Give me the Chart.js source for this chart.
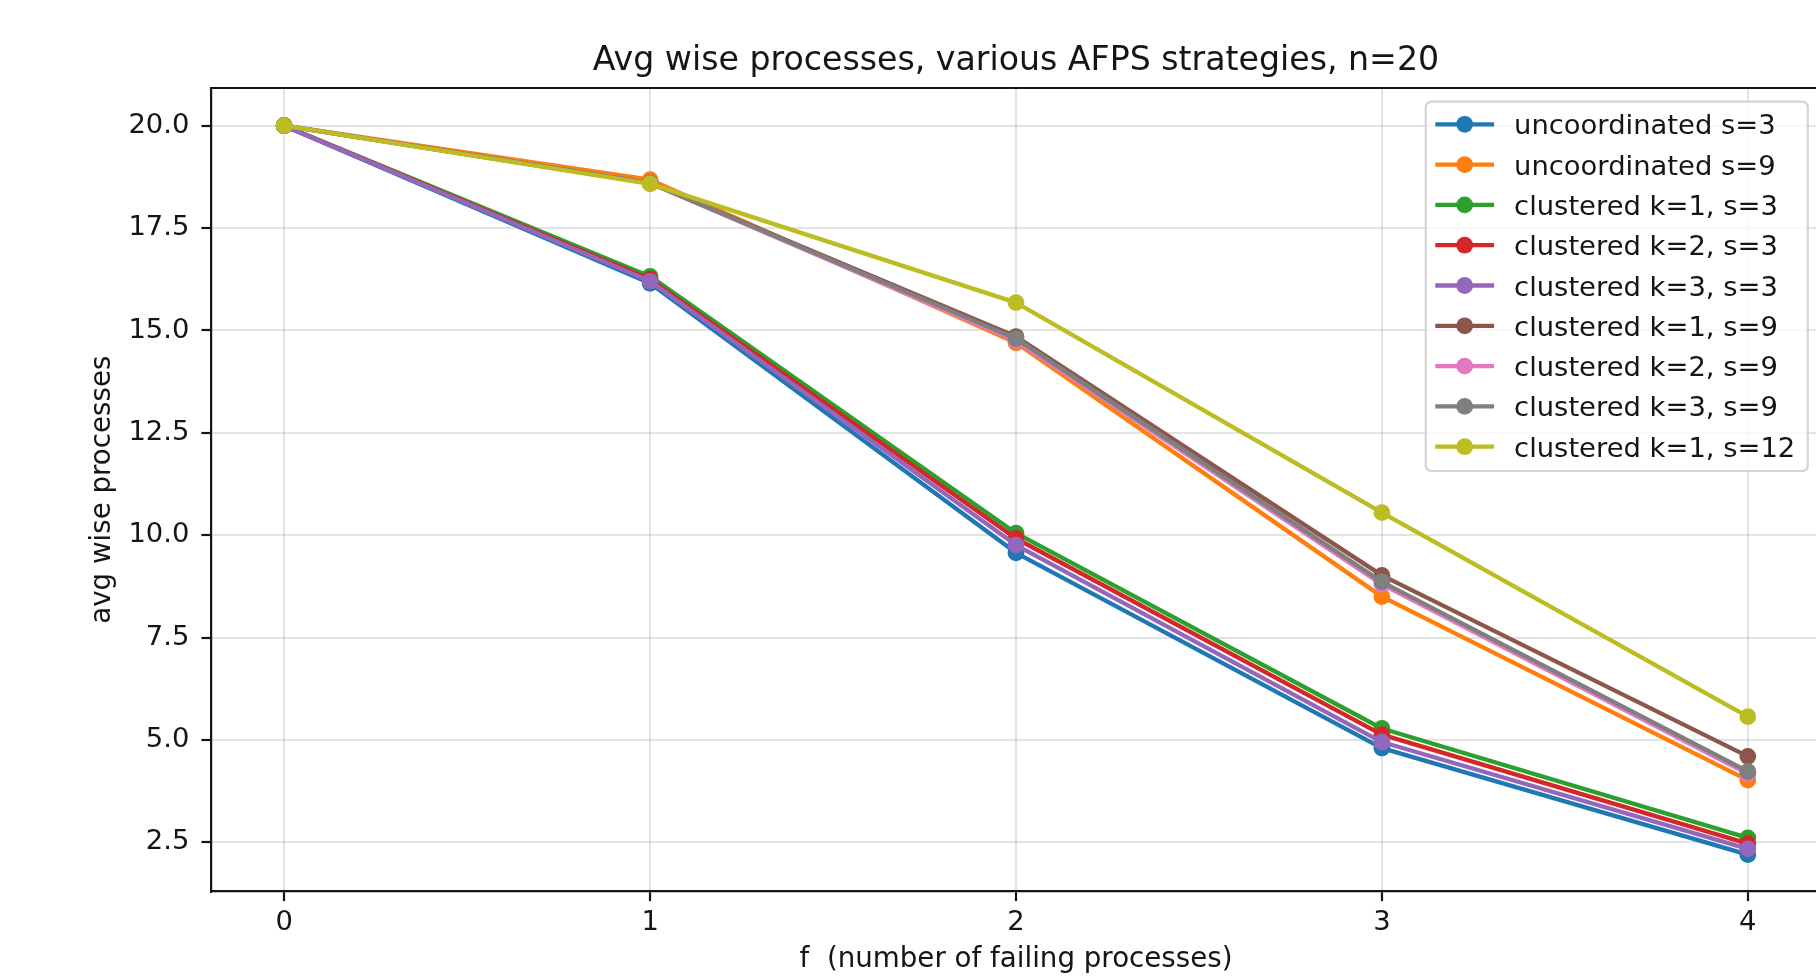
<!DOCTYPE html>
<html>
<head>
<meta charset="utf-8">
<script src="https://cdn.jsdelivr.net/npm/chart.js@4.4.1/dist/chart.umd.min.js"></script>
<style>
  html, body { margin: 0; padding: 0; background: #ffffff; overflow: hidden; }
  #wrap { width: 1840px; height: 976px; }
</style>
</head>
<body>
<div id="wrap"><canvas id="chart" width="1840" height="976"></canvas></div>
<script>
// f = number of failing processes
const failures = [0, 1, 2, 3, 4];

// average number of wise processes per strategy
const uncoordS3   = [20, 16.15, 9.57, 4.80, 2.20];
const uncoordS9   = [20, 18.68, 14.70, 8.50, 4.02];
const clusK1S3    = [20, 16.32, 10.05, 5.28, 2.61];
const clusK2S3    = [20, 16.25, 9.92, 5.13, 2.47];
const clusK3S3    = [20, 16.20, 9.76, 4.95, 2.34];
const clusK1S9    = [20, 18.60, 14.85, 9.02, 4.60];
const clusK2S9    = [20, 18.60, 14.75, 8.80, 4.17];
const clusK3S9    = [20, 18.60, 14.80, 8.86, 4.23];
const clusK1S12   = [20, 18.58, 15.68, 10.55, 5.57];

const seriesLabels = [
  'uncoordinated s=3', 'uncoordinated s=9',
  'clustered k=1, s=3', 'clustered k=2, s=3', 'clustered k=3, s=3',
  'clustered k=1, s=9', 'clustered k=2, s=9', 'clustered k=3, s=9',
  'clustered k=1, s=12'
];
const seriesValues = [uncoordS3, uncoordS9, clusK1S3, clusK2S3, clusK3S3,
                      clusK1S9, clusK2S9, clusK3S9, clusK1S12];
const seriesColors = ['#1f77b4', '#ff7f0e', '#2ca02c', '#d62728', '#9467bd',
                      '#8c564b', '#e377c2', '#7f7f7f', '#bcbd22'];

const chartTitle = 'Avg wise processes, various AFPS strategies, n=20';
const xTitle = 'f  (number of failing processes)';
const yTitle = 'avg wise processes';

const FONT = '"DejaVu Sans", sans-serif';
const TXT = '#151515';
const SMALL = 27.4;
const LABEL = 27.7;
const BIG = 33.2;

const datasets = seriesValues.map((vals, i) => ({
  label: seriesLabels[i],
  data: failures.map((f, j) => ({ x: f, y: vals[j] })),
  borderColor: seriesColors[i],
  backgroundColor: seriesColors[i],
  pointBackgroundColor: seriesColors[i],
  pointBorderWidth: 0,
  pointRadius: 8.4,
  borderWidth: 4.3,
  borderJoinStyle: 'round',
  tension: 0,
  fill: false,
  // later series are painted on top of earlier ones
  order: seriesValues.length - i
}));

// title, top frame edge and boxed legend inside the plot
const decorations = {
  id: 'decorations',
  afterDatasetsDraw(chart) {
    const { ctx, chartArea: a } = chart;
    ctx.save();

    // top spine
    ctx.strokeStyle = TXT;
    ctx.lineWidth = 2.2;
    ctx.beginPath();
    ctx.moveTo(a.left - 1.1, a.top);
    ctx.lineTo(a.right + 1.1, a.top);
    ctx.stroke();

    // title
    ctx.fillStyle = TXT;
    ctx.font = BIG + 'px ' + FONT;
    ctx.textAlign = 'center';
    ctx.textBaseline = 'alphabetic';
    ctx.fillText(chartTitle, (a.left + a.right) / 2, 69.5);

    // legend
    ctx.font = SMALL + 'px ' + FONT;
    let maxW = 0;
    seriesLabels.forEach(t => { maxW = Math.max(maxW, ctx.measureText(t).width); });
    const boxRight = a.right - 13.2;
    const textX = boxRight - 12.5 - maxW;
    const boxLeft = textX - 88.3;
    const boxTop = a.top + 13.7;
    const rowGap = 40.3;
    const boxBottom = boxTop + 22.6 + rowGap * (seriesLabels.length - 1) + 24.3;
    const r = 5.5;

    ctx.beginPath();
    ctx.moveTo(boxLeft + r, boxTop);
    ctx.lineTo(boxRight - r, boxTop);
    ctx.arcTo(boxRight, boxTop, boxRight, boxTop + r, r);
    ctx.lineTo(boxRight, boxBottom - r);
    ctx.arcTo(boxRight, boxBottom, boxRight - r, boxBottom, r);
    ctx.lineTo(boxLeft + r, boxBottom);
    ctx.arcTo(boxLeft, boxBottom, boxLeft, boxBottom - r, r);
    ctx.lineTo(boxLeft, boxTop + r);
    ctx.arcTo(boxLeft, boxTop, boxLeft + r, boxTop, r);
    ctx.closePath();
    ctx.fillStyle = 'rgba(255,255,255,0.8)';
    ctx.fill();
    ctx.strokeStyle = 'rgba(204,204,204,0.85)';
    ctx.lineWidth = 2.2;
    ctx.stroke();

    ctx.textAlign = 'left';
    seriesLabels.forEach((t, i) => {
      const cy = boxTop + 22.6 + rowGap * i;
      const hx0 = boxLeft + 9.5;
      const hx1 = boxLeft + 68.3;
      ctx.strokeStyle = seriesColors[i];
      ctx.lineWidth = 4.3;
      ctx.lineCap = 'butt';
      ctx.beginPath();
      ctx.moveTo(hx0, cy);
      ctx.lineTo(hx1, cy);
      ctx.stroke();
      ctx.fillStyle = seriesColors[i];
      ctx.beginPath();
      ctx.arc((hx0 + hx1) / 2, cy, 8.4, 0, Math.PI * 2);
      ctx.fill();
      ctx.fillStyle = TXT;
      ctx.fillText(t, textX, cy + 10);
    });
    ctx.restore();
  }
};

new Chart(document.getElementById('chart'), {
  type: 'line',
  data: { datasets },
  plugins: [decorations],
  options: {
    responsive: false,
    animation: false,
    devicePixelRatio: 1,
    layout: { padding: { left: 0, right: 19, top: 88, bottom: 0 } },
    plugins: {
      legend: { display: false },
      title: { display: false },
      tooltip: { enabled: false }
    },
    scales: {
      x: {
        type: 'linear',
        min: -0.2,
        max: 4.2,
        afterFit: s => { s.height = 84.5; },
        ticks: {
          stepSize: 1,
          includeBounds: false,
          padding: 5,
          color: TXT,
          font: { family: FONT, size: SMALL },
          callback: v => String(v)
        },
        grid: {
          color: 'rgba(176,176,176,0.35)',
          lineWidth: 2,
          tickColor: TXT,
          tickLength: 9.6,
          tickWidth: 2.2
        },
        border: { color: TXT, width: 2.2 },
        title: {
          display: true,
          text: xTitle,
          color: TXT,
          font: { family: FONT, size: LABEL },
          padding: { top: 0, bottom: 0 }
        }
      },
      y: {
        type: 'linear',
        min: 1.3,
        max: 20.92,
        afterFit: s => { s.width = 211; },
        ticks: {
          stepSize: 2.5,
          includeBounds: false,
          padding: 12,
          color: TXT,
          font: { family: FONT, size: SMALL },
          callback: v => v.toFixed(1)
        },
        grid: {
          color: 'rgba(176,176,176,0.35)',
          lineWidth: 2,
          tickColor: TXT,
          tickLength: 9.6,
          tickWidth: 2.2
        },
        border: { color: TXT, width: 2.2 },
        title: {
          display: true,
          text: yTitle,
          color: TXT,
          font: { family: FONT, size: LABEL },
          padding: { top: 86, bottom: 0 }
        }
      }
    }
  }
});
</script>
</body>
</html>
